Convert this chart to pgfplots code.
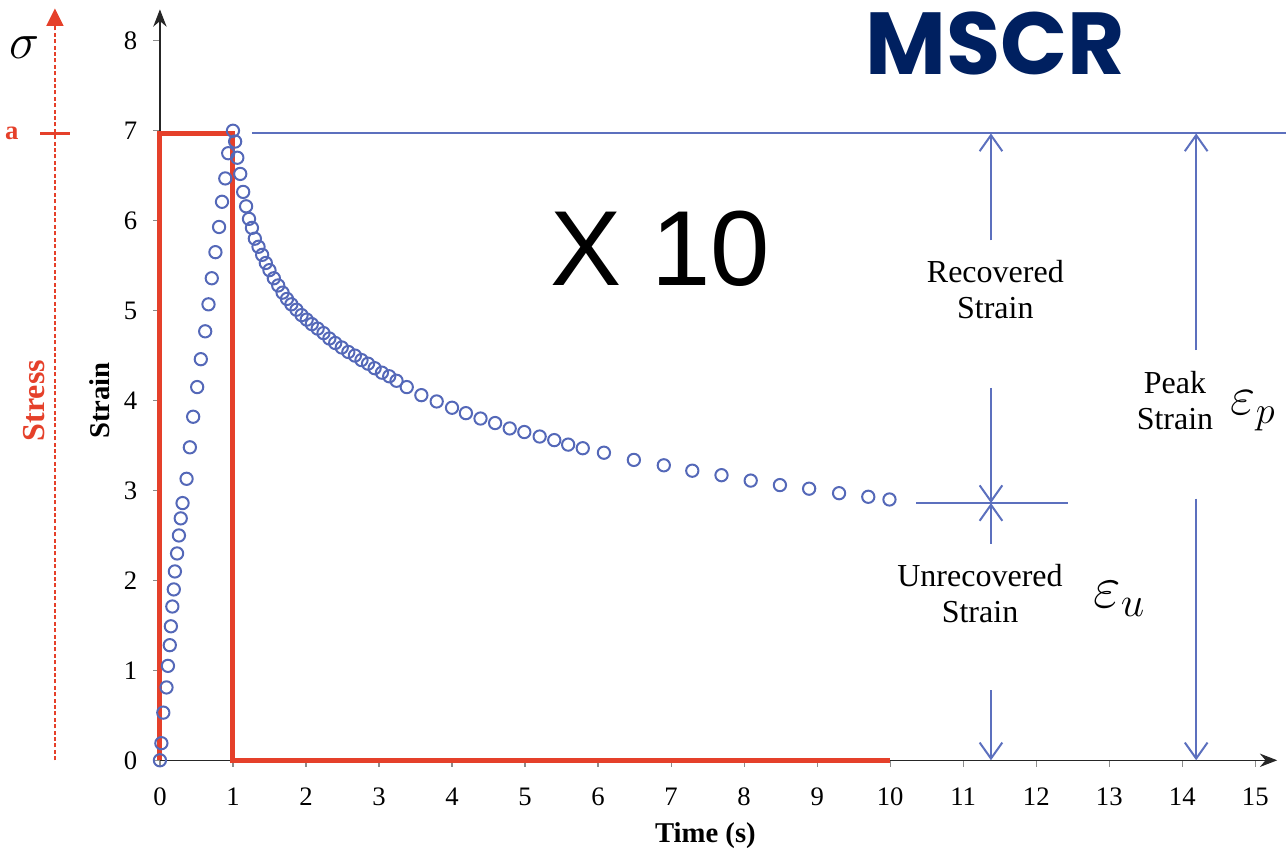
\RequirePackage{fix-cm}
\documentclass[border=0pt]{standalone}
\usepackage{fontspec}
\setmainfont{Liberation Serif}
\newfontfamily\arialfont{Liberation Sans}
\newfontfamily\mscrfont{Poppins}
\usepackage{pgfplots}
\pgfplotsset{compat=1.18}
\usetikzlibrary{arrows.meta}

\definecolor{markblue}{RGB}{84,104,184}
\definecolor{annblue}{RGB}{92,112,190}
\definecolor{stressred}{RGB}{229,64,42}
\definecolor{navy}{RGB}{0,32,96}

% creep (loading) and recovery strain readings, time in s
\pgfplotstableread{
t s
0     0.00
0.02  0.19
0.046 0.53
0.09  0.81
0.11  1.05
0.135 1.28
0.15  1.49
0.17  1.71
0.19  1.90
0.205 2.10
0.235 2.30
0.26  2.50
0.285 2.69
0.31  2.86
0.365 3.13
0.41  3.48
0.455 3.82
0.51  4.15
0.56  4.46
0.62  4.77
0.665 5.07
0.71  5.36
0.76  5.65
0.81  5.93
0.85  6.21
0.895 6.47
0.935 6.75
1.00  7.00
1.03  6.88
1.06  6.70
1.10  6.52
1.14  6.32
1.18  6.16
1.22  6.02
1.26  5.92
1.30  5.80
1.35  5.71
1.40  5.62
1.45  5.53
1.50  5.45
1.56  5.36
1.62  5.28
1.68  5.20
1.74  5.13
1.80  5.07
1.87  5.01
1.94  4.95
2.01  4.90
2.08  4.85
2.16  4.80
2.24  4.75
2.32  4.69
2.40  4.64
2.49  4.59
2.58  4.54
2.67  4.50
2.76  4.45
2.85  4.41
2.94  4.36
3.04  4.31
3.14  4.27
3.24  4.22
3.38  4.15
3.58  4.06
3.79  3.99
4.00  3.92
4.19  3.86
4.39  3.80
4.59  3.75
4.79  3.69
4.99  3.65
5.20  3.60
5.40  3.56
5.59  3.51
5.79  3.47
6.08  3.42
6.49  3.34
6.90  3.28
7.29  3.22
7.69  3.17
8.09  3.11
8.49  3.06
8.89  3.02
9.30  2.97
9.70  2.93
9.99  2.90
}\straindata

% applied stress pulse (1 s loading)
\pgfplotstableread{
t s
0  0
0  6.97
1  6.97
1  0
10 0
}\stressdata

\tikzset{barb/.style={-{Straight Barb[length=12pt,width=17pt]}}}

\begin{document}
\begin{tikzpicture}
\begin{axis}[
  x=54.75pt, y=67.425pt,
  xmin=0, xmax=15.3, ymin=0, ymax=8.35,
  axis lines=left,
  axis line style={line width=1.1pt, black!85, -{Stealth[length=13pt,width=10pt]}},
  xtick={0,...,15}, ytick={0,...,8},
  tick align=outside, major tick length=5pt,
  tick style={black!45, line width=0.9pt},
  ticklabel style={font=\fontsize{20}{24}\selectfont},
  xticklabel style={yshift=-12pt},
  yticklabel style={xshift=-8.5pt},
  /pgf/number format/assume math mode=true,
  clip=false,
]
\addplot[stressred, line width=3.8pt, line join=miter, no markers] table[x=t, y=s] {\stressdata};
\addplot[only marks, mark=o, mark size=4.6pt, markblue, mark options={line width=1.5pt}] table[x=t, y=s] {\straindata};

% axis titles
\node[rotate=90, font=\bfseries\fontsize{21.5}{25}\selectfont] at (axis cs:-0.82,4.0) {Strain};
\node[font=\bfseries\fontsize{21.5}{25}\selectfont] at (axis cs:7.47,-0.834) {Time (s)};

% stress axis
\draw[stressred, line width=1.8pt, dash pattern=on 3pt off 1.8pt] (axis cs:-1.438,0) -- (axis cs:-1.438,8.2);
\fill[stressred] (axis cs:-1.438,8.36) -- ++(-6.5pt,-13pt) -- ++(13pt,0) -- cycle;
\draw[stressred, line width=2.4pt] (axis cs:-1.64,6.97) -- (axis cs:-1.23,6.97);
\node[stressred, font=\bfseries\fontsize{20}{24}\selectfont] at (axis cs:-2.03,6.97) {a};
\node[stressred, rotate=90, font=\bfseries\fontsize{24}{28}\selectfont] at (axis cs:-1.73,4.0) {Stress};
\node[font=\fontsize{38}{42}\selectfont] at (axis cs:-1.85,7.92) {$\sigma$};

% strain annotations
\draw[annblue, line width=1.5pt] (axis cs:1.26,6.97) -- (axis cs:15.5,6.97);
\draw[annblue, line width=1.5pt, barb] (axis cs:11.38,5.78) -- (axis cs:11.38,6.97);
\draw[annblue, line width=1.5pt, barb] (axis cs:11.38,4.14) -- (axis cs:11.38,2.86);
\draw[annblue, line width=1.5pt] (axis cs:10.36,2.86) -- (axis cs:12.44,2.86);
\draw[annblue, line width=1.5pt, barb] (axis cs:11.38,2.41) -- (axis cs:11.38,2.86);
\draw[annblue, line width=1.5pt, barb] (axis cs:11.38,0.78) -- (axis cs:11.38,0);
\draw[annblue, line width=1.5pt, barb] (axis cs:14.19,4.56) -- (axis cs:14.19,6.97);
\draw[annblue, line width=1.5pt, barb] (axis cs:14.19,2.91) -- (axis cs:14.19,0);

\node[align=center, font=\fontsize{24}{27}\selectfont] at (axis cs:11.44,5.23) {Recovered\\Strain};
\node[align=center, font=\fontsize{24}{27}\selectfont] at (axis cs:11.23,1.85) {Unrecovered\\Strain};
\node[align=center, font=\fontsize{24}{27}\selectfont] at (axis cs:13.9,4.0) {Peak\\Strain};
\node[anchor=base west, inner sep=0pt, font=\fontsize{41}{45}\selectfont] at (axis cs:14.66,3.84) {$\varepsilon_p$};
\node[anchor=base west, inner sep=0pt, font=\fontsize{45}{50}\selectfont] at (axis cs:12.78,1.70) {$\varepsilon_u$};

\node[anchor=base, inner sep=0pt, font=\arialfont\fontsize{80}{90}\selectfont] at (axis cs:6.85,5.28) {X 10};
\node[anchor=base, inner sep=0pt, navy, font=\mscrfont\bfseries\fontsize{66}{72}\selectfont] at (axis cs:11.44,7.62) {MSCR};

\coordinate (bl) at (axis cs:-2.19,-1.034);
\coordinate (tr) at (axis cs:15.42,8.454);
\end{axis}
\pgfresetboundingbox
\path[use as bounding box] (bl) rectangle (tr);
\end{tikzpicture}
\end{document}
